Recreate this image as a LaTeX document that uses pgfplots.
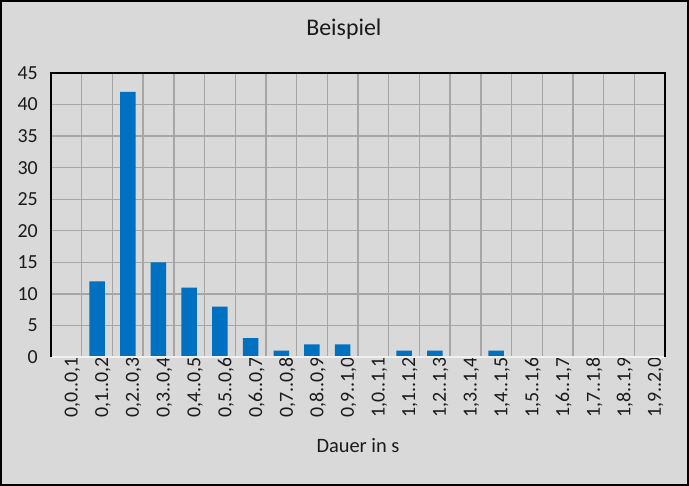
\documentclass[border=0pt]{standalone}
\usepackage{pgfplots}
\pgfplotsset{compat=1.18}
\usepackage{fontspec}
\setmainfont{Carlito}
\definecolor{bg}{HTML}{D9D9D9}
\definecolor{gridc}{HTML}{A6A6A6}
\definecolor{barc}{HTML}{0070C0}
\definecolor{txt}{HTML}{1A1A1A}
\begin{document}
\begin{tikzpicture}
\useasboundingbox (0,0) rectangle (689bp,486bp);
\fill[black] (0,0) rectangle (689bp,486bp);
\fill[bg] (2bp,2bp) rectangle (687bp,484bp);
\begin{axis}[
  at={(51bp,129bp)}, anchor=south west,
  scale only axis,
  width=614bp, height=284bp,
  xmin=-0.5, xmax=19.5,
  ymin=0, ymax=45,
  ytick={0,5,...,45},
  xtick={0,...,19},
  xticklabels={{0,0..0,1},{0,1..0,2},{0,2..0,3},{0,3..0,4},{0,4..0,5},{0,5..0,6},{0,6..0,7},{0,7..0,8},{0,8..0,9},{0,9..1,0},{1,0..1,1},{1,1..1,2},{1,2..1,3},{1,3..1,4},{1,4..1,5},{1,5..1,6},{1,6..1,7},{1,7..1,8},{1,8..1,9},{1,9..2,0}},
  minor xtick={0.5,1.5,...,18.5},
  xminorgrids, ymajorgrids, xmajorgrids=false,
  major grid style={draw=gridc, line width=1.4bp},
  minor grid style={draw=gridc, line width=1.4bp},
  major tick length=0pt, minor tick length=0pt,
  axis line style={draw=none},
  /pgf/number format/assume math mode=true,
  tick label style={font=\fontsize{20}{20}\selectfont, text=txt},
  yticklabel style={anchor=east, inner sep=0pt, xshift=-13bp},
  xticklabel style={rotate=90, anchor=east, inner sep=0pt, yshift=-6bp},
  xlabel={Dauer in s},
  xlabel style={font=\fontsize{20.5}{20.5}\selectfont, text=txt, anchor=base, at={(axis description cs:0.5,-0.338)}},
  title={Beispiel},
  title style={font=\fontsize{24}{24}\selectfont, text=txt, anchor=base, at={(axis description cs:0.477,1.1127)}},
  ybar, bar width=15.5bp,
  after end axis/.code={
    \draw[color=white!94!black, line width=2bp] (rel axis cs:0,0) -- (rel axis cs:1,0);
    \draw[black, line width=2bp, line join=miter] (rel axis cs:0,0) -- (rel axis cs:0,1) -- (rel axis cs:1,1) -- (rel axis cs:1,0);
  },
]
\addplot[fill=barc, draw=none, bar shift=0pt] coordinates {
(0,0) (1,12) (2,42) (3,15) (4,11) (5,8) (6,3) (7,1) (8,2) (9,2)
(10,0) (11,1) (12,1) (13,0) (14,1) (15,0) (16,0) (17,0) (18,0) (19,0)
};
\end{axis}
\end{tikzpicture}
\end{document}
